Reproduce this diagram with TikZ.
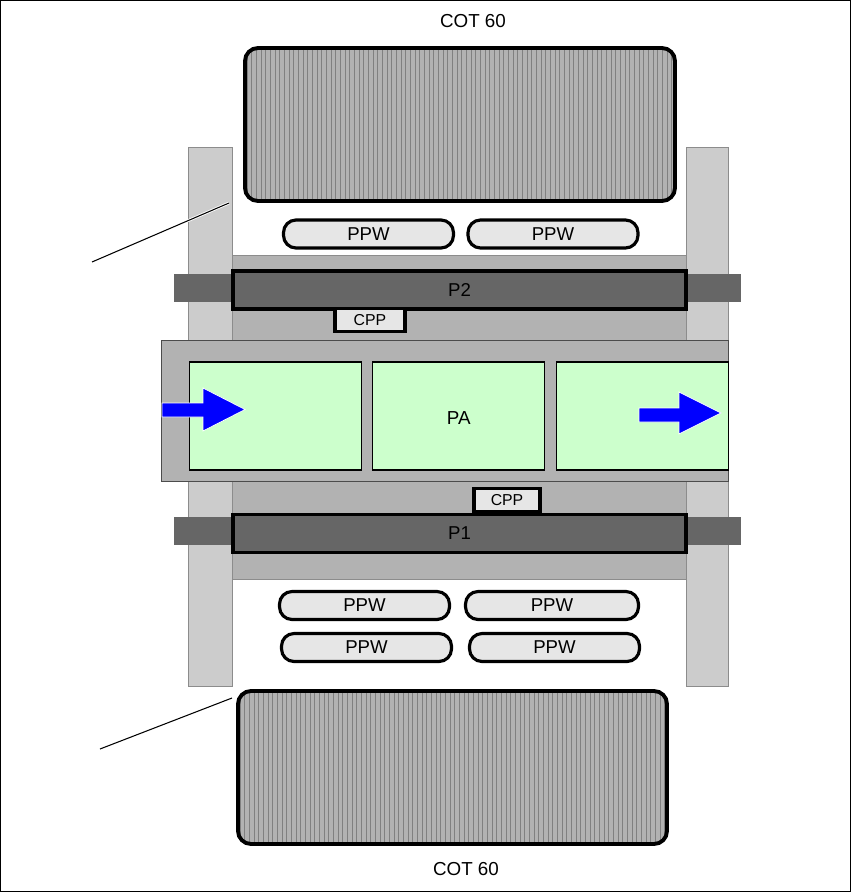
\documentclass[tikz,border=0pt]{standalone}
\usepackage{fontspec}
\setmainfont{Liberation Sans}
\usetikzlibrary{calc, positioning}
\definecolor{railgray}{HTML}{CCCCCC}
\definecolor{padgray}{HTML}{B2B2B2}
\definecolor{polygray}{HTML}{666666}
\definecolor{boxgray}{HTML}{E6E6E6}
\definecolor{cellgreen}{HTML}{CCFFCC}
\definecolor{flowblue}{HTML}{0000FF}
\tikzset{
  railbar/.style={draw=black!45, fill=railgray, line width=0.5pt},
  padbar/.style={fill=padgray, draw=black!45, line width=0.4pt},
  stubbar/.style={fill=polygray},
  polybox/.style={draw=black, fill=polygray, line width=1.8pt, inner sep=0pt, minimum width=9.06cm, minimum height=0.76cm, font=\fontsize{10.6}{12}\selectfont},
  ppwbox/.style={draw=black, fill=boxgray, rounded corners=2.5mm, line width=1.8pt, inner sep=0pt, minimum width=3.4cm, minimum height=0.56cm, font=\fontsize{10.6}{12}\selectfont},
  cppbox/.style={draw=black, fill=boxgray, line width=1.8pt, inner sep=0pt, minimum height=0.46cm, font=\fontsize{9}{10}\selectfont},
  cellbox/.style={draw=black, fill=cellgreen, line width=0.6pt, inner sep=0pt, minimum width=3.44cm, minimum height=2.16cm},
  flowarrow/.style={fill=flowblue, draw=white, line width=0.4pt},
  leader/.style={draw=black, line width=0.6pt},
  lblnode/.style={font=\fontsize{10.7}{12}\selectfont, inner sep=0pt},
}
\begin{document}
\begin{tikzpicture}[x=0.02cm, y=-0.02cm]
\useasboundingbox (0,0) rectangle (851,892);
\draw[line width=1pt, black] (0,0) rectangle (851,892);
% rails
\draw[railbar] (188.5,147) rectangle (232.7,686);
\draw[railbar] (686,147) rectangle (728.7,686);
% gate backdrops
\draw[padbar] (232.7,255) rectangle (686,341);
\draw[padbar] (232.7,481) rectangle (686,579);
\fill[stubbar] (174,274) rectangle (232,302);
\fill[stubbar] (687,274) rectangle (741,302);
\fill[stubbar] (174,517) rectangle (232,545);
\fill[stubbar] (687,517) rectangle (741,545);
% centre band
\draw[fill=padgray, draw=black!70, line width=0.45pt] (161.7,340.7) rectangle (728.7,481);
% cot blocks
\foreach \blockx/\blocky/\blockw in {245/48/430, 238/691/429} {
  \begin{scope}
    \clip[rounded corners=2.6mm] (\blockx,\blocky) rectangle ++(\blockw,153);
    \fill[padgray] (\blockx,\blocky) rectangle ++(\blockw,153);
    \foreach \i in {0,...,92}
      \draw[black!50, line width=0.55pt] ({\blockx+2+\i*4.67},\blocky) -- ++(0,153);
  \end{scope}
  \draw[black, line width=2.2pt, rounded corners=2.6mm] (\blockx,\blocky) rectangle ++(\blockw,153);
}
% ppw
\node[ppwbox] (ppwa) at (368.5,234) {PPW};
\node[ppwbox] (ppwb) at (553,234) {PPW};
\node[ppwbox] (ppwc) at (364.5,605.5) {PPW};
\node[ppwbox, minimum width=3.46cm] (ppwd) at (552,605.5) {PPW};
\node[ppwbox] (ppwe) at (366.5,647.5) {PPW};
\node[ppwbox] (ppwf) at (554.5,647.5) {PPW};
% poly
\node[polybox] (ptwo) at (459.5,290) {P2};
\node[polybox] (pone) at (459.5,533.5) {P1};
\node[cppbox, minimum width=1.4cm] (cppa) at (370,320) {CPP};
\node[cppbox, minimum width=1.32cm] (cppb) at (507,500) {CPP};
% cells
\node[cellbox] (cella) at (275.2,416) {};
\node[cellbox] (cellb) at (458.8,416) {};
\node[cellbox] (cellc) at (642.2,416) {};
\node[lblnode] (palabel) at (458.8,418.5) {PA};
% arrows
\draw[flowarrow] (162,403) -- (203,403) -- (203,388) -- (245,409.5) -- (203,431) -- (203,417) -- (162,417) -- cycle;
\draw[flowarrow] (639,408) -- (679,408) -- (679,392) -- (721,413) -- (679,434) -- (679,422) -- (639,422) -- cycle;
% leaders
\coordinate (leadatop) at (229,203);
\coordinate (leadaend) at (92,262);
\coordinate (leadbtop) at (232,698);
\coordinate (leadbend) at (100,749);
\draw[white, line width=1.6pt] (leadatop) -- ($(leadatop)!0.7!(leadaend)$);
\draw[leader] (leadatop) -- (leadaend);
\draw[leader] (leadbtop) -- (leadbend);
% labels
\node[lblnode] (cottop) at (473,21) {COT 60};
\node[lblnode] (cotbot) at (466,869) {COT 60};
\end{tikzpicture}
\end{document}
